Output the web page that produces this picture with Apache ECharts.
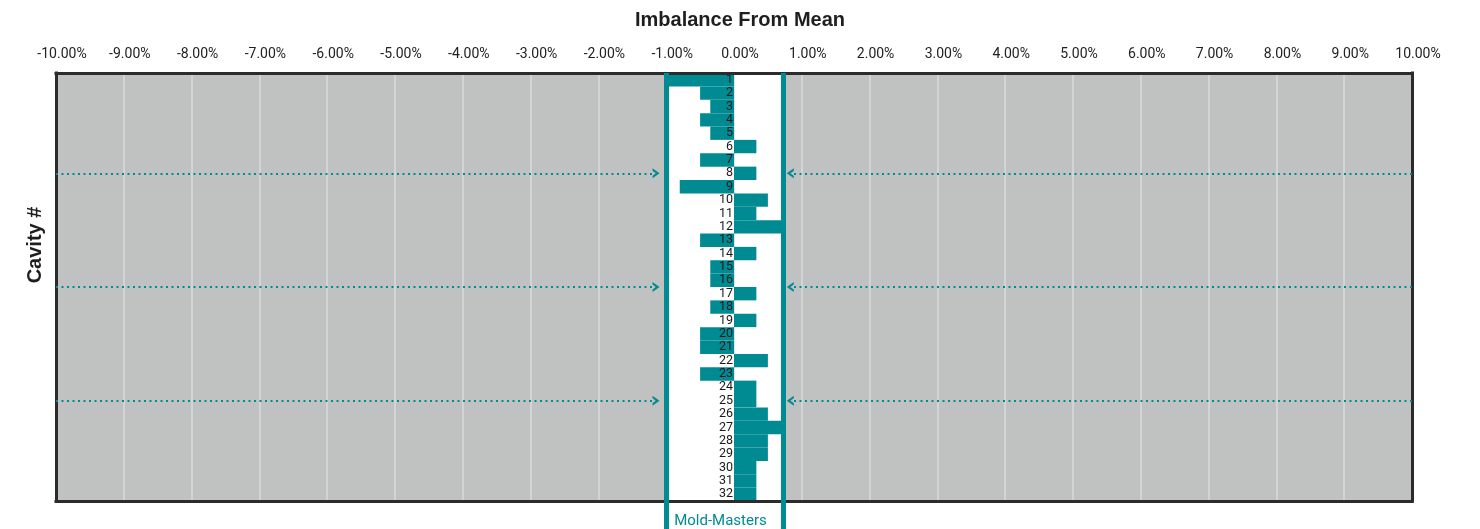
<!DOCTYPE html>
<html><head><meta charset="utf-8">
<script src="https://cdn.jsdelivr.net/npm/echarts@6/dist/echarts.min.js"></script>
<style>html,body{margin:0;padding:0;background:#fff}#c{width:1480px;height:529px}</style>
</head><body><div id="c"></div>
<script>
// ---- data ----
const cavities = ['1','2','3','4','5','6','7','8','9','10','11','12','13','14','15','16',
                  '17','18','19','20','21','22','23','24','25','26','27','28','29','30','31','32'];
const imbalance = [-1.0, -0.5, -0.35, -0.5, -0.35, 0.33, -0.5, 0.33, -0.8, 0.5, 0.33, 0.7,
                   -0.5, 0.33, -0.35, -0.35, 0.33, -0.35, 0.33, -0.5, -0.5, 0.5, -0.5, 0.33,
                   0.33, 0.5, 0.7, 0.5, 0.5, 0.33, 0.33, 0.33];
const xRange = [-10, 10];
const xStep = 1;
const moldMastersBand = [-1.0, 0.72];
const arrowRows = [7.5, 16, 24.5];
const arrowTips = [-1.15, 0.83];
const bandLabel = 'Mold-Masters';
const titleText = 'Imbalance From Mean';
const yName = 'Cavity #';

// ---- style ----
const TEAL = '#008b93';
const GRAY = '#c0c2c1';
const FRAME = '#2b2b2b';
const NARROW = '"Liberation Sans Narrow", "Arial Narrow", Roboto, sans-serif';
const BOLD = '"Liberation Sans", Arial, sans-serif';
const chevron = 'path://M0,7 L5,0 L10,7 L7.4,7 L5,3.6 L2.6,7 Z';

const chart = echarts.init(document.getElementById('c'));

const frameX = (pos) => ({
  gridIndex: 0, type: 'value', min: xRange[0], max: xRange[1], position: pos, z: 6,
  axisLine: { show: true, onZero: false, lineStyle: { color: FRAME, width: 3, cap: 'square' } },
  axisTick: { show: false }, axisLabel: { show: false }, splitLine: { show: false }
});
const frameY = (pos) => ({
  gridIndex: 0, type: 'value', min: 0, max: cavities.length, inverse: true, position: pos, z: 6,
  axisLine: { show: true, onZero: false, lineStyle: { color: FRAME, width: 3, cap: 'square' } },
  axisTick: { show: false }, axisLabel: { show: false }, splitLine: { show: false }
});

const arrowData = [];
arrowRows.forEach(r => {
  arrowData.push([{ coord: [xRange[0], r], symbol: 'none' },
                  { coord: [arrowTips[0], r], symbol: chevron, symbolSize: [10, 7] }]);
  arrowData.push([{ coord: [xRange[1], r], symbol: 'none' },
                  { coord: [arrowTips[1], r], symbol: chevron, symbolSize: [10, 7] }]);
});

// category names drawn right-aligned against the zero line
const barData = imbalance.map(v => ({
  value: v,
  label: { position: v < 0 ? 'insideRight' : 'left' }
}));

chart.setOption({
  animation: false,
  title: {
    text: titleText, left: 'center', top: 10, padding: [0, 12, 0, 0],
    textStyle: { fontFamily: BOLD, fontSize: 20, fontWeight: 'bold', color: '#1e1e1e' }
  },
  graphic: [{
    type: 'text', x: 35, y: 245, rotation: Math.PI / 2,
    style: { text: yName, font: 'bold 20px "Liberation Sans", Arial, sans-serif',
             fill: '#1e1e1e', align: 'center', verticalAlign: 'middle' }
  }],
  grid: [
    { left: 56, right: 68, top: 73, bottom: 28, show: true, backgroundColor: GRAY, borderWidth: 0 },
    { left: 56, right: 68, top: 501, bottom: 0 }
  ],
  xAxis: [
    {
      gridIndex: 0, type: 'value', min: xRange[0], max: xRange[1], interval: xStep, position: 'top',
      axisLine: { show: false, onZero: false }, axisTick: { show: false },
      axisLabel: { margin: 12, fontFamily: NARROW, fontSize: 14, color: '#222', padding: [0, 0, 0, 12],
                   formatter: v => v.toFixed(2) + '%' },
      splitLine: { show: true, lineStyle: { color: '#dadbda', width: 1.5 } }
    },
    frameX('top'),
    frameX('bottom'),
    { gridIndex: 1, type: 'value', min: xRange[0], max: xRange[1], show: false }
  ],
  yAxis: [
    {
      gridIndex: 0, type: 'category', data: cavities, inverse: true, position: 'left', show: false
    },
    frameY('left'),
    frameY('right'),
    { gridIndex: 1, type: 'value', min: 0, max: 1, show: false }
  ],
  series: [
    { // white band
      type: 'line', data: [], xAxisIndex: 0, yAxisIndex: 1,
      markArea: { silent: true, z: 1, itemStyle: { color: '#ffffff' }, label: { show: false },
                  data: [[{ xAxis: moldMastersBand[0] }, { xAxis: moldMastersBand[1] }]] }
    },
    { // faint zero gridline
      type: 'line', data: [], xAxisIndex: 0, yAxisIndex: 1,
      markLine: { silent: true, z: 1.5, symbol: 'none', label: { show: false },
                  lineStyle: { color: '#e4e4e4', width: 1, type: 'solid' }, data: [{ xAxis: 0 }] }
    },
    {
      name: 'Imbalance', type: 'bar', xAxisIndex: 0, yAxisIndex: 0, z: 2,
      data: barData, barWidth: '100%', barCategoryGap: '0%',
      itemStyle: { color: TEAL },
      label: { show: true, formatter: '{b}', distance: 1, fontFamily: NARROW, fontSize: 12.5,
               color: '#1a1a1a', align: 'right', verticalAlign: 'middle' }
    },
    { // Mold-Masters window lines
      type: 'line', data: [], xAxisIndex: 0, yAxisIndex: 1,
      markLine: { silent: true, z: 7, symbol: 'none', label: { show: false },
                  lineStyle: { color: TEAL, width: 5, type: 'solid' },
                  data: moldMastersBand.map(v => ({ xAxis: v })) }
    },
    { // dotted arrows
      type: 'line', data: [], xAxisIndex: 0, yAxisIndex: 1,
      markLine: { silent: true, z: 7, symbol: 'none', label: { show: false },
                  lineStyle: { color: TEAL, width: 2, type: [2, 3.5] },
                  data: arrowData }
    },
    { // continuation below the frame with label
      type: 'line', data: [], xAxisIndex: 3, yAxisIndex: 3,
      markLine: { silent: true, z: 7, symbol: 'none', label: { show: false },
                  lineStyle: { color: TEAL, width: 5, type: 'solid' },
                  data: moldMastersBand.map(v => ({ xAxis: v })) },
      markArea: { silent: true, z: 1, itemStyle: { color: 'rgba(0,0,0,0)' },
                  label: { show: true, position: 'inside', color: TEAL, fontFamily: NARROW,
                           fontSize: 15, offset: [-4, 6] },
                  data: [[{ name: bandLabel, xAxis: moldMastersBand[0] }, { xAxis: moldMastersBand[1] }]] }
    }
  ]
});
</script></body></html>
